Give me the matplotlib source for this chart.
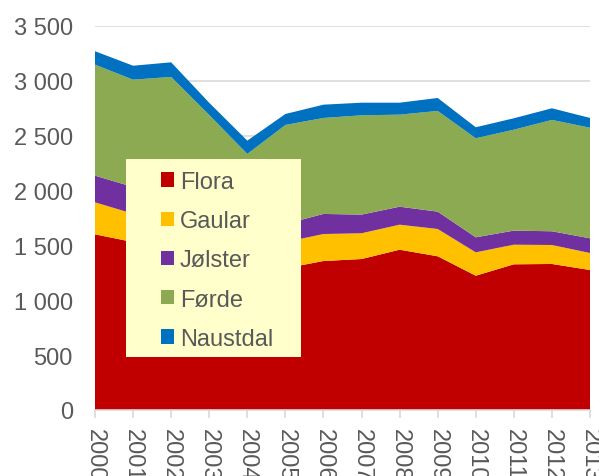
import matplotlib
matplotlib.use("Agg")
import matplotlib.pyplot as plt
from matplotlib.patches import Rectangle, Patch
from matplotlib.ticker import FuncFormatter

years = [2000, 2001, 2002, 2003, 2004, 2005, 2006, 2007, 2008, 2009, 2010, 2011, 2012, 2013]
flora = [1601, 1531, 1480, 1400, 1330, 1292, 1358, 1376, 1461, 1401, 1224, 1328, 1331, 1276]
gaular = [292, 258, 260, 250, 240, 239, 246, 235, 228, 249, 213, 179, 173, 155]
jolster = [243, 244, 240, 230, 210, 165, 183, 170, 164, 158, 137, 128, 125, 134]
forde = [1012, 978, 1056, 809, 554, 902, 875, 905, 839, 918, 903, 920, 1015, 1008]
naustdal = [122, 127, 133, 111, 121, 100, 121, 115, 109, 118, 100, 104, 106, 89]

labels = ["Flora", "Gaular", "Jølster", "Førde", "Naustdal"]
colors = ["#C00000", "#FFC000", "#7030A0", "#8CAA52", "#0070C0"]

plt.rcParams['font.family'] = ['Liberation Sans', 'DejaVu Sans']
W, H = 599, 477
fig = plt.figure(figsize=(W / 100, H / 100), dpi=100)
ax = fig.add_axes([95 / W, 66 / H, 495 / W, 384 / H])

ax.stackplot(years, flora, gaular, jolster, forde, naustdal, colors=colors, linewidth=0, zorder=2)

ax.set_xlim(2000, 2013)
ax.set_ylim(0, 3500)
ax.set_yticks(range(0, 3501, 500))
ax.yaxis.set_major_formatter(FuncFormatter(lambda v, p: f"{v:,.0f}".replace(",", " ")))
ax.set_xticks(years)
ax.set_xticklabels([str(y) for y in years], rotation=270)
ax.grid(axis='y', color='#D9D9D9', linewidth=1.2, zorder=0)
ax.set_axisbelow(True)
for s in ['top', 'right', 'left']:
    ax.spines[s].set_visible(False)
ax.spines['bottom'].set_color('#D9D9D9')
ax.spines['bottom'].set_linewidth(1.2)
ax.spines['bottom'].set_zorder(3)
ax.tick_params(axis='y', length=0, pad=16, labelsize=17, labelcolor='#595959')
ax.tick_params(axis='x', length=6, width=1.2, color='#D9D9D9', pad=7, labelsize=17, labelcolor='#595959')
for lab in ax.get_xticklabels():
    lab.set_verticalalignment('top')

# legend background
bg = Rectangle((126 / W, (H - 358) / H), (301 - 126) / W, (358 - 160) / H,
               transform=fig.transFigure, facecolor='#FFFFCC', edgecolor='none', zorder=5)
fig.patches.append(bg)

handles = [Patch(facecolor=c, edgecolor='none') for c in colors]
leg = fig.legend(handles, labels, loc='upper left', bbox_to_anchor=(149 / W, (H - 160) / H),
                 frameon=False, fontsize=17, labelcolor='#595959', borderpad=0,
                 handlelength=0.55, handleheight=0.55, handletextpad=0.25, labelspacing=0.73)
leg.set_zorder(6)

fig.savefig("out.png", dpi=100)
